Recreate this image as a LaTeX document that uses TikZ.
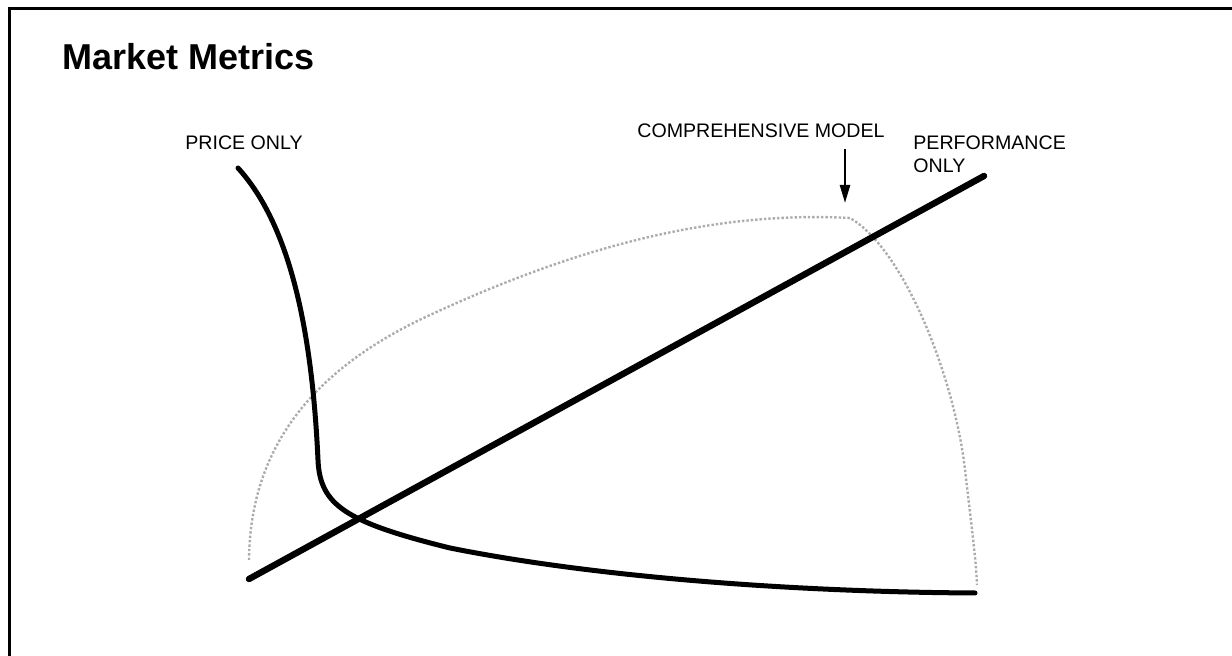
\documentclass[tikz,border=0pt]{standalone}
\usepackage{fontspec}
\setmainfont{Liberation Sans}
\usetikzlibrary{positioning,arrows.meta}

\begin{document}
\begin{tikzpicture}[x=0.5pt,y=-0.5pt,
  lbl/.style={anchor=base west, inner sep=0pt, font=\fontsize{9.8}{11.6}\selectfont}]
  \useasboundingbox (0,0) rectangle (1232,656);
  \draw[line width=1.5pt] (9,656) -- (9,9) -- (1232,9);
  \node[anchor=base west, inner sep=0pt, font=\bfseries\fontsize{18}{21}\selectfont] (title) at (62,70) {Market Metrics};
  \node[lbl] (priceonly) at (185,150) {PRICE ONLY};
  \node[lbl] (compmodel) at (637,138) {COMPREHENSIVE MODEL};
  \node[lbl, anchor=north west, align=left] (perfonly) at (913,135) {PERFORMANCE\\ONLY};
  % comprehensive model
  \draw[gray!65, line width=1.2pt, densely dotted] (249,560) .. controls (250,450) and (310,370) .. (430,315)
    .. controls (560,255) and (700,210) .. (850,218)
    .. controls (905,250) and (955,380) .. (965,470)
    .. controls (972,530) and (976,560) .. (977,585);
  \coordinate (comptip) at (845,203);
  \draw[line width=1.2pt, -{Triangle[length=9pt,width=5pt]}] ([yshift=-5pt]compmodel.south -| comptip) -- (comptip);
  % performance only
  \coordinate (perfstart) at (249,579);
  \coordinate (perfend) at (984,176);
  \draw[line width=3.2pt, line cap=round] (perfstart) -- (perfend);
  % price only
  \draw[line width=2.5pt, line cap=round] (238,168) .. controls (290,225) and (312,330) .. (318,460)
    .. controls (320,505) and (345,522) .. (450,548)
    .. controls (600,578) and (800,592) .. (975,593);
\end{tikzpicture}
\end{document}
